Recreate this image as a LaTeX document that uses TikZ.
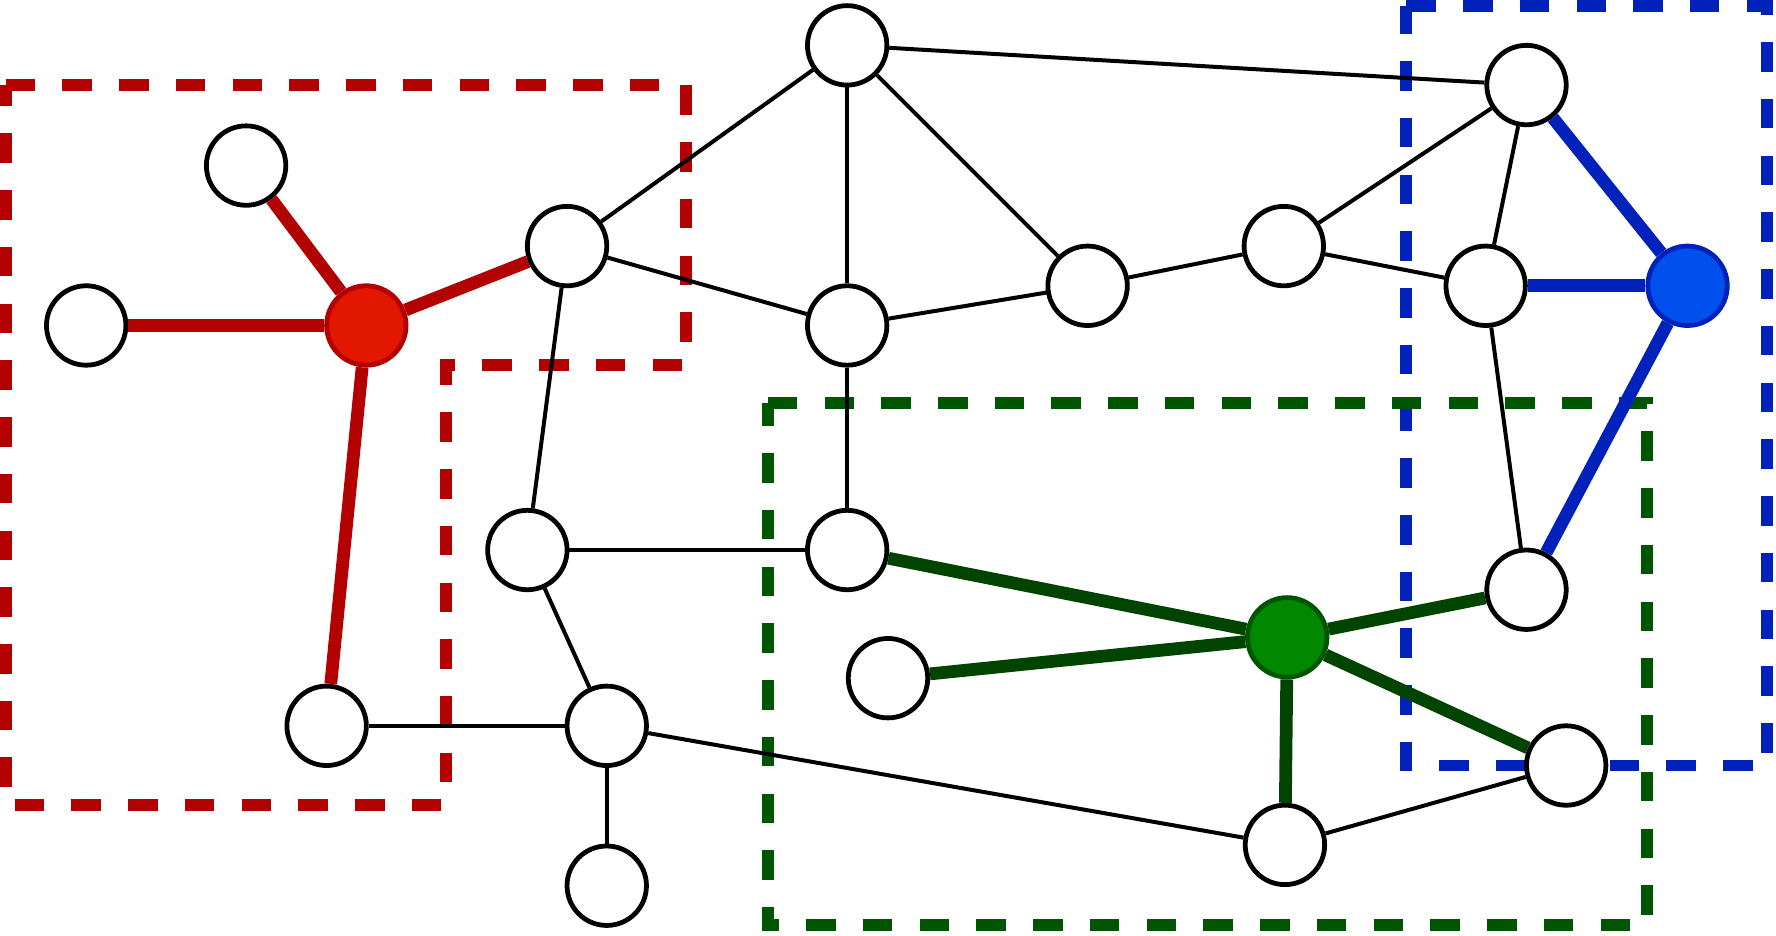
\documentclass[tikz,border=0pt]{standalone}
\usetikzlibrary{positioning}
\definecolor{dred}{HTML}{B30000}
\definecolor{fred}{HTML}{E31600}
\definecolor{dblue}{HTML}{0022BB}
\definecolor{fblue}{HTML}{0050EE}
\definecolor{dgreen}{HTML}{005500}
\definecolor{fgreen}{HTML}{008800}
\tikzset{
vertex/.style={circle, draw=black, line width=1.2pt, minimum size=7mm, inner sep=0pt, fill=white},
plain/.style={draw=black, line width=1pt},
hot/.style={line width=3.2pt},
region/.style={line width=3pt, dash pattern=on 2.6mm off 2.4mm},
}
\begin{document}
\begin{tikzpicture}[x=0.01cm, y=-0.01cm]
    \useasboundingbox (0,0) rectangle (1566,825);

    % regions
    \draw[region, dred] (5,75) -- (605,75) -- (605,322) -- (393,322) -- (393,710) -- (5,710) -- cycle;
    \draw[region, dblue] (1240,5) -- (1558,5) -- (1558,675) -- (1240,675) -- cycle;
    \draw[region, dgreen] (677,355) -- (1452,355) -- (1452,816) -- (677,816) -- cycle;

    % vertices
    \node[vertex] (top) at (747,40) {};
    \node[vertex] (lup) at (217,146) {};
    \node[vertex] (hub) at (500,217) {};
    \node[vertex] (lft) at (76,287) {};
    \node[vertex, fill=fred, draw=dred] (red) at (323,287) {};
    \node[vertex] (mid) at (747,287) {};
    \node[vertex] (ctr) at (959,252) {};
    \node[vertex] (rgt) at (1132,217) {};
    \node[vertex] (nne) at (1346,75) {};
    \node[vertex] (eas) at (1310,252) {};
    \node[vertex, fill=fblue, draw=dblue] (blue) at (1488,252) {};
    \node[vertex] (wst) at (465,485) {};
    \node[vertex] (low) at (747,485) {};
    \node[vertex] (sea) at (1346,520) {};
    \node[vertex] (iso) at (783,598) {};
    \node[vertex, fill=fgreen, draw=dgreen] (green) at (1135,562) {};
    \node[vertex] (bl) at (288,640) {};
    \node[vertex] (bm) at (535,640) {};
    \node[vertex] (bse) at (1381,675) {};
    \node[vertex] (bs) at (1133,745) {};
    \node[vertex] (bot) at (535,781) {};

    % plain edges
    \foreach \u/\v in {top/hub, top/mid, top/ctr, top/nne, hub/mid, hub/wst, mid/ctr,
                       mid/low, ctr/rgt, rgt/nne, rgt/eas, nne/eas, eas/sea, wst/low,
                       wst/bm, bl/bm, bm/bot, bm/bs, bs/bse}
        \draw[plain] (\u) -- (\v);

    % coloured edges
    \foreach \v in {lft, lup, hub, bl}
        \draw[hot, dred] (red) -- (\v);
    \foreach \v in {nne, eas, sea}
        \draw[hot, dblue] (blue) -- (\v);
    \foreach \v in {low, iso, sea, bse, bs}
        \draw[hot, dgreen!80!black] (green) -- (\v);

    % redraw vertices on top
    \foreach \n in {red, blue, green, lft, lup, hub, bl, nne, eas, sea, low, iso, bse, bs}
        \node[vertex, draw=none, fill=none] at (\n) {};
\end{tikzpicture}
\end{document}
